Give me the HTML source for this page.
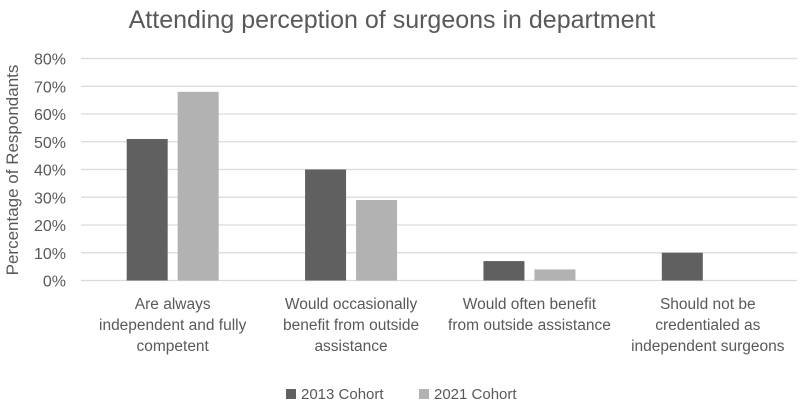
<!DOCTYPE html>
<html><head><meta charset="utf-8"><style>
body{margin:0;background:#fff;}
svg text{font-family:"Liberation Sans",sans-serif;fill:#595959;}
</style></head><body>
<svg width="812" height="403">
<text x="392" y="28" text-anchor="middle" font-size="25">Attending perception of surgeons in department</text>
<text transform="translate(18,170) rotate(-90)" text-anchor="middle" font-size="17">Percentage of Respondants</text>
<g id="grid"></g><g id="bars"></g><g id="xl"></g>
<g>
<rect x="286" y="389" width="10" height="10" fill="#606060"/>
<text x="301" y="399" font-size="15">2013 Cohort</text>
<rect x="419" y="389" width="10" height="10" fill="#b2b2b2"/>
<text x="434" y="399" font-size="15">2021 Cohort</text>
</g>
</svg>
<script>
const categories=[["Are always","independent and fully","competent"],["Would occasionally","benefit from outside","assistance"],["Would often benefit","from outside assistance"],["Should not be","credentialed as","independent surgeons"]];
const s2013=[51,40,7,10];
const s2021=[68,29,4,0];
const ticks=[0,10,20,30,40,50,60,70,80];
const NS="http://www.w3.org/2000/svg";
const x0=83.5,x1=797,y0=280.5,yTop=58.5,vmax=80;
const y=v=>y0-(y0-yTop)*v/vmax;
const gw=(x1-x0)/categories.length;
const gx=i=>x0+gw*(i+0.5);
function mk(tag,attrs,parent){const e=document.createElementNS(NS,tag);for(const k in attrs)e.setAttribute(k,attrs[k]);document.getElementById(parent).appendChild(e);return e;}
ticks.forEach(t=>{
 const l=mk('line',{x1:81,x2:x1,y1:y(t),y2:y(t),stroke:'#d9d9d9','stroke-width':1.3},'grid');
 
 
 const tx=mk('text',{x:66,y:y(t)+6,'text-anchor':'end','font-size':16},'grid');
 tx.textContent=t+'%';
 
 
});
const bw=41;
categories.forEach((c,i)=>{
 const a=mk('rect',{x:gx(i)-46,y:y(s2013[i]),width:bw,height:y0-y(s2013[i]),fill:'#606060'},'bars');
 
 
 const b=mk('rect',{x:gx(i)+5,y:y(s2021[i]),width:bw,height:y0-y(s2021[i]),fill:'#b2b2b2'},'bars');
 
 
 c.forEach((line,j)=>{
  const t=mk('text',{x:gx(i),y:309+j*21,'text-anchor':'middle','font-size':15.5},'xl');
  t.textContent=line;
  
  
 });
});
</script>
</body></html>
